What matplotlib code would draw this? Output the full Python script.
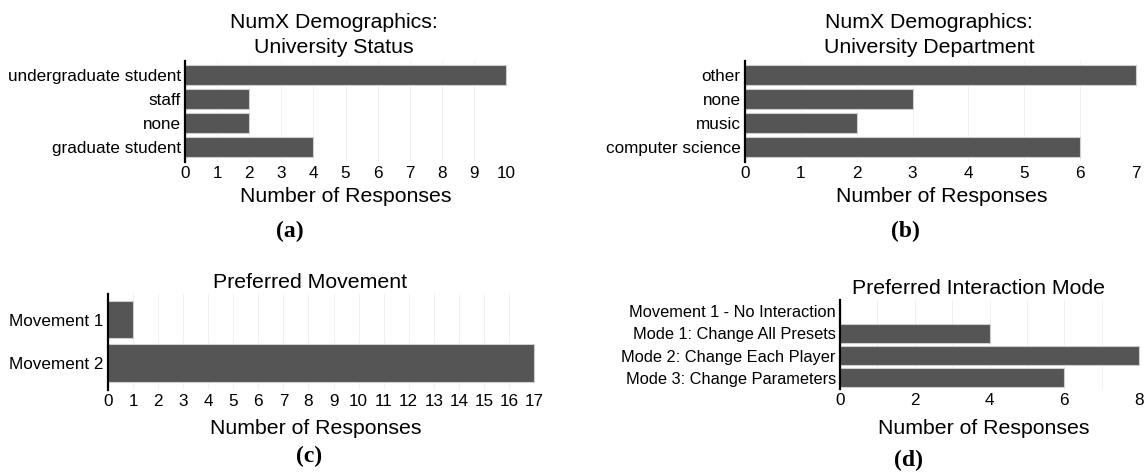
import matplotlib
matplotlib.use("Agg")
import matplotlib.pyplot as plt
import numpy as np

plt.rcParams['font.family'] = ['Liberation Sans', 'DejaVu Sans']

# ---- data ----
status_cats = ["graduate student", "none", "staff", "undergraduate student"]
status_vals = [4, 2, 2, 10]

dept_cats = ["computer science", "music", "none", "other"]
dept_vals = [6, 2, 3, 7]

move_cats = ["Movement 2", "Movement 1"]
move_vals = [17, 1]

mode_cats = ["Mode 3: Change Parameters", "Mode 2: Change Each Player",
             "Mode 1: Change All Presets", "Movement 1 - No Interaction"]
mode_vals = [6, 8, 4, 0]

W, H = 1145, 474
fig = plt.figure(figsize=(W / 100, H / 100), dpi=100)

BAR = "#555555"
EDGE = "#cfcfcf"


def add_ax(x0, x1, y0, y1):
    return fig.add_axes([x0 / W, 1 - y1 / H, (x1 - x0) / W, (y1 - y0) / H])


def panel(ax, cats, vals, xmax, xticks, ylim, height, title, tpos, xlpos,
          cap, cpos, ysize=12.3, lspace=1.42):
    y = np.arange(len(cats))
    ax.barh(y, vals, height=height, color=BAR, edgecolor=EDGE, linewidth=0.8,
            zorder=2, clip_on=False)
    ax.set_xlim(0, xmax)
    ax.set_ylim(*ylim)
    ax.set_yticks(y)
    ax.set_yticklabels(cats, fontsize=ysize)
    ax.set_xticks(xticks)
    ax.set_xticklabels([str(t) for t in xticks], fontsize=12.3)
    ax.set_xticks(np.arange(0, xmax + 1), minor=True)
    ax.grid(axis='x', which='both', color='#efefef', linewidth=0.6, zorder=0)
    ax.set_axisbelow(True)
    for s in ['top', 'right', 'bottom']:
        ax.spines[s].set_visible(False)
    ax.spines['left'].set_linewidth(1.6)
    ax.spines['left'].set_color('black')
    ax.spines['left'].set_zorder(5)
    ax.tick_params(axis='both', which='both', length=0)
    ax.tick_params(axis='y', pad=3)
    ax.tick_params(axis='x', pad=3)
    fig.text(tpos[0] / W, 1 - tpos[1] / H, title, ha='center', va='center',
             fontsize=15.3, linespacing=lspace)
    fig.text(xlpos[0] / W, 1 - xlpos[1] / H, "Number of Responses",
             ha='center', va='center', fontsize=15.3)
    fig.text(cpos[0] / W, 1 - cpos[1] / H, cap, ha='center', va='center',
             fontsize=17, fontweight='bold',
             family=['Liberation Serif', 'DejaVu Serif'])


ax_a = add_ax(185, 506, 61, 162)
panel(ax_a, status_cats, status_vals, 10, list(range(0, 11)), (-0.62, 3.58), 0.83,
      "NumX Demographics:\nUniversity Status", (334, 35), (346, 197),
      "(a)", (290, 231))

ax_b = add_ax(745, 1136, 61, 162)
panel(ax_b, dept_cats, dept_vals, 7, list(range(0, 8)), (-0.62, 3.58), 0.83,
      "NumX Demographics:\nUniversity Department", (929, 35), (942, 197),
      "(b)", (905, 231))

ax_c = add_ax(108, 534, 294, 390)
panel(ax_c, move_cats, move_vals, 17, list(range(0, 18)), (-0.628, 1.593), 0.87,
      "Preferred Movement", (310, 283), (316, 429),
      "(c)", (309, 456))

ax_d = add_ax(840, 1139, 300, 389)
panel(ax_d, mode_cats, mode_vals, 8, [0, 2, 4, 6, 8], (-0.52, 3.52), 0.88,
      "Preferred Interaction Mode", (979, 289), (984, 429),
      "(d)", (908, 460), ysize=11.8)

fig.savefig("out.png", dpi=100)
